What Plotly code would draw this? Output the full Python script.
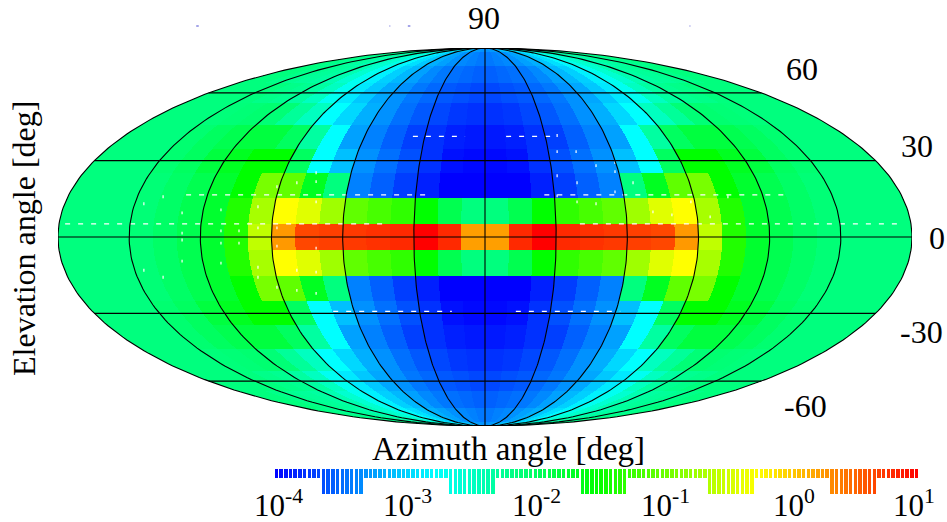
import numpy as np
import plotly.graph_objects as go

W, H = 947, 522
SERIF = "Liberation Serif"

# log10 of intensity per |azimuth| bin (0-10, 10-20, ... 170-180) for each |elevation| band
ELEV_00 = [0.22, 0.80, 1.00, 0.80, 0.76, 0.72, 0.69, 0.65, 0.25, -0.56, -1.34, -1.73, -1.89, -2.00, -2.08, -2.12, -2.12, -2.12]
ELEV_10 = [-2.12, -1.89, -1.50, -1.27, -1.15, -1.03, -0.72, -0.40, -0.25, -0.68, -1.34, -1.73, -1.89, -2.00, -2.08, -2.12, -2.12, -2.12]
ELEV_20 = [-4.00, -4.00, -3.85, -3.70, -3.53, -3.37, -2.12, -1.66, -1.03, -0.91, -1.50, -1.73, -1.89, -2.00, -2.08, -2.12, -2.12, -2.12]
ELEV_30 = [-3.96, -3.92, -3.76, -3.61, -3.45, -3.29, -3.06, -2.75, -1.97, -1.50, -1.50, -1.66, -1.81, -1.97, -2.05, -2.12, -2.12, -2.12]
ELEV_40 = [-3.88, -3.85, -3.76, -3.69, -3.53, -3.37, -3.21, -2.75, -2.29, -1.97, -1.81, -1.81, -1.89, -1.97, -2.05, -2.12, -2.12, -2.12]
ELEV_50 = [-3.76, -3.73, -3.65, -3.57, -3.45, -3.29, -3.14, -2.94, -2.75, -2.44, -2.25, -2.08, -2.05, -2.08, -2.10, -2.12, -2.12, -2.12]
ELEV_60 = [-3.65, -3.61, -3.57, -3.49, -3.41, -3.29, -3.18, -3.02, -2.86, -2.68, -2.44, -2.29, -2.21, -2.17, -2.12, -2.12, -2.12, -2.12]
ELEV_70 = [-3.53, -3.49, -3.45, -3.41, -3.33, -3.21, -3.10, -2.98, -2.82, -2.68, -2.52, -2.37, -2.29, -2.25, -2.21, -2.17, -2.12, -2.12]
ELEV_80 = [-3.41, -3.37, -3.33, -3.29, -3.21, -3.14, -3.02, -2.90, -2.78, -2.63, -2.52, -2.44, -2.37, -2.29, -2.25, -2.21, -2.17, -2.12]
ELEV_90 = [-3.29, -3.25, -3.21, -3.14, -3.06, -2.98, -2.90, -2.82, -2.75, -2.63, -2.52, -2.44, -2.37, -2.29, -2.25, -2.21, -2.17, -2.12]
TABLE = np.array([ELEV_00, ELEV_10, ELEV_20, ELEV_30, ELEV_40, ELEV_50, ELEV_60, ELEV_70, ELEV_80, ELEV_90])

MERIDIANS = [-180, -150, -120, -90, -60, -30, 0, 30, 60, 90, 120, 150, 180]
PARALLELS = [-60, -30, 0, 30, 60]
DECADES = [-4, -3, -2, -1, 0, 1]
DECADE_LABELS = ["10<sup>-4</sup>", "10<sup>-3</sup>", "10<sup>-2</sup>", "10<sup>-1</sup>", "10<sup>0</sup>", "10<sup>1</sup>"]
LONG_BANDS = [(-3.64, -3.29), (-2.64, -2.28), (-1.63, -1.27), (-0.63, -0.27), (0.31, 0.67)]
N_SWATCHES = 137

# stray plotting artefacts of the original, in map-axis units
WHITE_RUNS = [(0.532, -30.4, -8.4), (0.532, 8.9, 30.8), (0.223, -126, -24), (0.223, 25, 126),
              (0.069, -177, -40), (0.069, 40, 177), (-0.394, -64, -14), (-0.394, 13, 57)]
SPECK_X = [-143.8, -135.7, -127.7, -127.7, -111.3, -111.3, -103.7, -95.7, -95.7, -87.7, -87.7, -79.3, -71.2, -71.2, -71.2,
           -143.8, -135.7, -127.7, -127.7, -111.3, -111.3, -103.7, -95.7, -95.7, -87.7, -87.7, -79.3, -79.3, -71.2, -71.2, -71.2,
           30.4, 30.4, 38.4, 46.8, 54.8, 30.4, 38.8, 54.8, 54.8, 30.4, 38.8, 46.8, 62.4, 70.8, 78.8, 86.8, 94.9, 102.4]
SPECK_Y = [0.176, 0.213, 0.128, 0.021, 0.144, 0.032, 0.032, 0.16, 0.048, 0.266, 0.048, 0.287, 0.34, 0.293, 0.186,
           -0.176, -0.213, -0.128, -0.016, -0.138, -0.032, -0.032, -0.16, -0.213, -0.266, -0.048, -0.176, -0.282, -0.186, -0.298, -0.059,
           0.537, 0.452, 0.452, 0.378, 0.394, 0.324, 0.287, 0.346, 0.239, 0.218, 0.186, 0.176, 0.287, 0.133, 0.117, 0.186, 0.106, 0.213]
BLUE_X = [-121.2, -40.1, -32.0, 86.4]
BLUE_Y = [0, 0, 0, 0]
BLUE_HALF = [1.8, 0.6, 1.8, 0.6]

COLORSCALE = [[0, "#0000ff"], [0.25, "#00ffff"], [0.5, "#00ff00"], [0.75, "#ffff00"], [1, "#ff0000"]]


def theta_of(lat_deg):
    lo, hi = -np.pi / 2, np.pi / 2
    target = np.pi * np.sin(np.radians(lat_deg))
    for _ in range(60):
        mid = (lo + hi) / 2
        if 2 * mid + np.sin(2 * mid) < target:
            lo = mid
        else:
            hi = mid
    return (lo + hi) / 2


# Mollweide raster: x axis is equatorial degrees, y axis is sin(theta)
NX, NY = 854, 378
xc = -180 + (np.arange(NX) + 0.5) * 360 / NX
yc = -1 + (np.arange(NY) + 0.5) * 2 / NY
XX, YY = np.meshgrid(xc, yc)
th = np.arcsin(YY)
lat = np.degrees(np.arcsin((2 * th + np.sin(2 * th)) / np.pi))
lon = XX / np.cos(th)
row = np.minimum(9, np.floor((np.abs(lat) + 5) / 10).astype(int))
col = np.minimum(17, np.floor(np.abs(lon) / 10).astype(int))
Z = TABLE[row, col]
Z[np.abs(lon) > 180] = np.nan

fig = go.Figure()
fig.add_trace(go.Heatmap(x=xc, y=yc, z=Z, zmin=-4, zmax=1, colorscale=COLORSCALE, showscale=False,
                         hoverinfo="skip", xaxis="x", yaxis="y", zsmooth=False))

# graticule
gx, gy = [], []
ts = np.linspace(-np.pi / 2, np.pi / 2, 181)
for m in MERIDIANS:
    gx += list(m * np.cos(ts)) + [None]
    gy += list(np.sin(ts)) + [None]
for p in PARALLELS:
    t = theta_of(p)
    gx += [-180 * np.cos(t), 180 * np.cos(t), None]
    gy += [np.sin(t), np.sin(t), None]

# white artefacts
wx, wy = [], []
for y0, a, b in WHITE_RUNS:
    wx += [a, b, None]
    wy += [y0, y0, None]
fig.add_trace(go.Scatter(x=wx, y=wy, mode="lines", line=dict(color="white", width=1.3, dash="5px,8px"),
                         hoverinfo="skip", showlegend=False))
fig.add_trace(go.Scatter(x=SPECK_X, y=SPECK_Y, mode="markers", hoverinfo="skip", showlegend=False,
                         marker=dict(symbol="line-ns", size=2, line=dict(color="white", width=1.2))))
fig.add_trace(go.Scatter(x=gx, y=gy, mode="lines", line=dict(color="black", width=1.1), hoverinfo="skip", showlegend=False))

# blue specks above the map, on their own thin strip of axes
fig.add_trace(go.Scatter(x=BLUE_X, y=BLUE_Y, xaxis="x3", yaxis="y3", mode="markers", hoverinfo="skip", showlegend=False,
                         marker=dict(symbol="line-ew", size=BLUE_HALF, line=dict(color="#0000c0", width=1))))

# colour key
levels = -4 + 5 * (np.arange(N_SWATCHES) + 0.5) / N_SWATCHES
drop = [25 if any(a <= v <= b for a, b in LONG_BANDS) else 9 for v in levels]
fig.add_trace(go.Bar(x=levels, y=drop, xaxis="x2", yaxis="y2", width=5 / N_SWATCHES * 0.74, hoverinfo="skip", showlegend=False,
                     marker=dict(color=levels, colorscale=COLORSCALE, cmin=-4, cmax=1, line=dict(width=0))))


def px(x):
    return x / W


def py(y):
    return 1 - y / H


def label(text, x, y, size=32, angle=0):
    return dict(text=text, x=px(x), y=py(y), xref="paper", yref="paper", showarrow=False, textangle=angle,
                xanchor="center", yanchor="middle", font=dict(family=SERIF, size=size, color="black"))


anns = [label("90", 484, 18), label("60", 802, 69), label("30", 917, 146), label("0", 937, 238),
        label("-30", 921, 332), label("-60", 805, 406),
        label("Azimuth angle [deg]", 508, 449, size=33), label("Elevation angle [deg]", 24, 239, angle=-90)]
for d, t in zip(DECADES, DECADE_LABELS):
    cx = 278 + (d + 4) * 129
    if d == 1:
        cx = 914
    anns.append(label(t, cx, 503, size=31))

fig.update_layout(
    width=W, height=H, margin=dict(l=0, r=0, t=0, b=0), paper_bgcolor="white", plot_bgcolor="rgba(0,0,0,0)",
    showlegend=False, bargap=0, annotations=anns,
    xaxis=dict(domain=[px(58), px(912)], range=[-180, 180], visible=False),
    yaxis=dict(domain=[py(426), py(48)], range=[-1, 1], visible=False),
    xaxis2=dict(domain=[px(274), px(919)], range=[-4, 1], visible=False, anchor="y2"),
    yaxis2=dict(domain=[py(494), py(469)], range=[25, 0], visible=False, anchor="x2"),
    xaxis3=dict(domain=[px(58), px(912)], range=[-180, 180], visible=False, anchor="y3"),
    yaxis3=dict(domain=[py(36), py(16)], range=[-1, 1], visible=False, anchor="x3"),
)
fig.write_html("out.html", config=dict(displayModeBar=False),
               post_script="document.body.style.margin='0';document.body.style.overflow='hidden';")
